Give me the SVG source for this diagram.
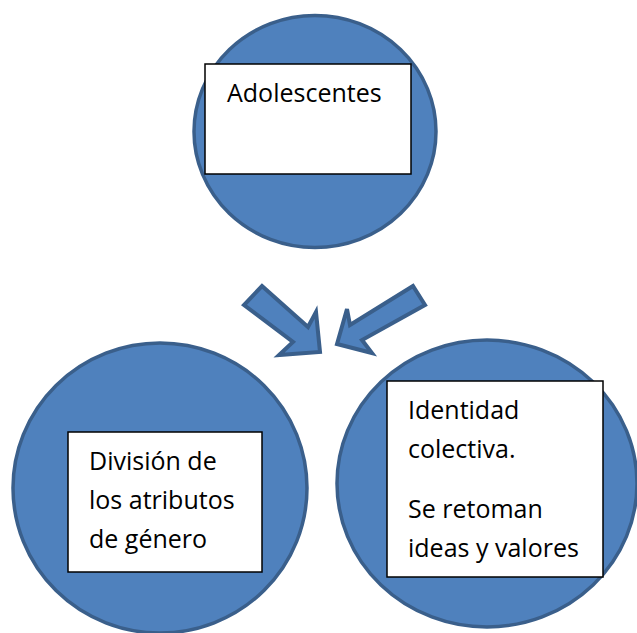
<svg xmlns="http://www.w3.org/2000/svg" width="637" height="633" viewBox="0 0 637 633">
<style>
.circ{fill:#4F81BD;stroke:#3A5F8B;stroke-width:3.5}
.arr{fill:#4F81BD;stroke:#3A5F8B;stroke-width:4;stroke-linejoin:miter}
.box{fill:#FFFFFF;stroke:#000000;stroke-width:1.5}
.t{font-family:"Open Sans","Liberation Sans",sans-serif;font-size:25px;fill:#000000}
</style>
<g id="connectors">
<polygon class="arr" points="262,286 308,327 316,312 320,352 279,355 293,342 244,305"/>
<polygon class="arr" points="413,286 350,325 347,309 337,344 372,353 362,340 425,305"/>
</g>
<g id="node-adolescentes">
<ellipse class="circ" cx="315" cy="131.5" rx="121" ry="116"/>
<rect class="box" x="205" y="64" width="206" height="110"/>
<text class="t" x="227" y="102">Adolescentes</text>
</g>
<g id="node-division">
<ellipse class="circ" cx="160" cy="488" rx="147" ry="145"/>
<rect class="box" x="68" y="432" width="194" height="140"/>
<text class="t"><tspan x="89" y="470">División de</tspan><tspan x="89" y="509">los atributos</tspan><tspan x="89" y="548">de género</tspan></text>
</g>
<g id="node-identidad">
<ellipse class="circ" cx="487" cy="483.5" rx="150" ry="143.5"/>
<rect class="box" x="387" y="381" width="216" height="196"/>
<text class="t"><tspan x="408" y="419">Identidad</tspan><tspan x="408" y="458">colectiva.</tspan><tspan x="408" y="518">Se retoman</tspan><tspan x="408" y="557">ideas y valores</tspan></text>
</g>
</svg>
